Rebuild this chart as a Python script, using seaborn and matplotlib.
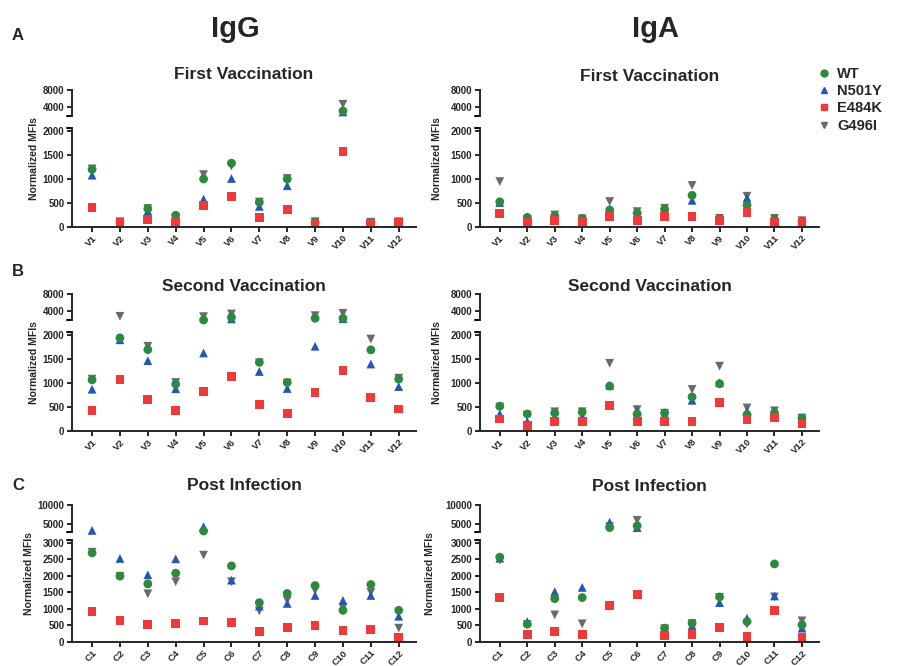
import pandas as pd
import matplotlib.pyplot as plt
from matplotlib.lines import Line2D
import seaborn as sns

sns.set_style("ticks")
plt.rcParams['font.family'] = ['Liberation Sans', 'DejaVu Sans']
plt.rcParams['font.weight'] = 'bold'

variants = ['WT', 'N501Y', 'E484K', 'G496I']
draw_order = ['G496I', 'N501Y', 'WT', 'E484K']
colors = {'WT': '#2b8a3e', 'N501Y': '#2457b5', 'E484K': '#f03a3a', 'G496I': '#6a6a6a'}
markers = {'WT': 'o', 'N501Y': '^', 'E484K': 's', 'G496I': 'v'}

vacc = ['V1', 'V2', 'V3', 'V4', 'V5', 'V6', 'V7', 'V8', 'V9', 'V10', 'V11', 'V12']
conv = ['C1', 'C2', 'C3', 'C4', 'C5', 'C6', 'C7', 'C8', 'C9', 'C10', 'C11', 'C12']

# First vaccination
first_igg_wt = [1200, 100, 380, 245, 1000, 1330, 515, 1000, 100, 3150, 90, 100]
first_igg_n501y = [1080, 100, 330, 150, 580, 1010, 430, 860, 100, 2930, 90, 100]
first_igg_e484k = [400, 90, 150, 105, 445, 635, 195, 370, 85, 1580, 80, 90]
first_igg_g496i = [1210, 110, 385, 170, 1090, 1270, 520, 1010, 110, 4700, 100, 110]

first_iga_wt = [525, 200, 230, 180, 355, 290, 370, 660, 170, 455, 150, 120]
first_iga_n501y = [510, 190, 220, 190, 375, 270, 350, 555, 170, 605, 150, 130]
first_iga_e484k = [285, 105, 140, 105, 215, 140, 225, 225, 140, 300, 100, 100]
first_iga_g496i = [945, 150, 250, 170, 530, 320, 390, 865, 180, 640, 180, 130]

# Second vaccination
second_igg_wt = [1065, 1940, 1695, 975, 2005, 2600, 1430, 1010, 2400, 2400, 1690, 1080]
second_igg_n501y = [870, 1900, 1465, 880, 1625, 2250, 1240, 885, 1765, 2300, 1395, 925]
second_igg_e484k = [425, 1065, 650, 425, 820, 1135, 560, 360, 810, 1260, 690, 460]
second_igg_g496i = [1080, 2850, 1765, 1010, 2770, 3380, 1420, 1000, 3000, 3540, 1915, 1100]

second_iga_wt = [515, 355, 375, 395, 935, 355, 375, 710, 985, 340, 375, 270]
second_iga_n501y = [355, 200, 305, 305, 950, 410, 340, 640, 1005, 410, 400, 235]
second_iga_e484k = [250, 120, 200, 195, 535, 200, 200, 200, 590, 235, 280, 145]
second_iga_g496i = [500, 330, 400, 400, 1410, 445, 370, 865, 1350, 480, 420, 270]

# Post infection
post_igg_wt = [2700, 1995, 1760, 2085, 3160, 2305, 1190, 1470, 1710, 960, 1740, 960]
post_igg_n501y = [3330, 2530, 2035, 2520, 4300, 1875, 1090, 1170, 1410, 1260, 1410, 780]
post_igg_e484k = [915, 655, 535, 565, 635, 585, 320, 450, 510, 360, 390, 150]
post_igg_g496i = [2720, 1990, 1460, 1825, 2630, 1825, 940, 1260, 1560, 1050, 1500, 420]

post_iga_wt = [2570, 540, 1315, 1345, 4060, 4530, 420, 570, 1365, 620, 2365, 520]
post_iga_n501y = [2540, 620, 1525, 1655, 5470, 4060, 370, 500, 1195, 720, 1395, 420]
post_iga_e484k = [1345, 220, 310, 220, 1095, 1445, 200, 220, 440, 160, 945, 150]
post_iga_g496i = [2480, 530, 820, 550, 4300, 5940, 400, 560, 1350, 540, 1365, 640]

W, H = 898, 666


def box(x0, x1, y0, y1):
    # pixel box (top-left origin) -> figure fraction
    return [x0 / W, 1 - y1 / H, (x1 - x0) / W, (y1 - y0) / H]


def panel_frame(labels, series):
    rows = []
    for v in draw_order:
        for lab, val in zip(labels, series[v]):
            rows.append((lab, v, val))
    df = pd.DataFrame(rows, columns=['sample', 'variant', 'mfi'])
    df['sample'] = pd.Categorical(df['sample'], categories=labels)
    return df


panels = [
    dict(title='First Vaccination', labels=vacc, col=0, row=0,
         series={'WT': first_igg_wt, 'N501Y': first_igg_n501y, 'E484K': first_igg_e484k, 'G496I': first_igg_g496i}),
    dict(title='First Vaccination', labels=vacc, col=1, row=0,
         series={'WT': first_iga_wt, 'N501Y': first_iga_n501y, 'E484K': first_iga_e484k, 'G496I': first_iga_g496i}),
    dict(title='Second Vaccination', labels=vacc, col=0, row=1,
         series={'WT': second_igg_wt, 'N501Y': second_igg_n501y, 'E484K': second_igg_e484k, 'G496I': second_igg_g496i}),
    dict(title='Second Vaccination', labels=vacc, col=1, row=1,
         series={'WT': second_iga_wt, 'N501Y': second_iga_n501y, 'E484K': second_iga_e484k, 'G496I': second_iga_g496i}),
    dict(title='Post Infection', labels=conv, col=0, row=2,
         series={'WT': post_igg_wt, 'N501Y': post_igg_n501y, 'E484K': post_igg_e484k, 'G496I': post_igg_g496i}),
    dict(title='Post Infection', labels=conv, col=1, row=2,
         series={'WT': post_iga_wt, 'N501Y': post_iga_n501y, 'E484K': post_iga_e484k, 'G496I': post_iga_g496i}),
]

# per row: upper axes px, lower axes px, lower top value, upper range, ticks, title pad
rows_cfg = [
    dict(up=(90, 116), low=(128, 227), low_lim=2062, split=2000, up_lim=(2000, 8000),
         up_ticks=[4000, 8000], low_ticks=range(0, 2001, 500), pad=[8, 6.5]),
    dict(up=(294, 320), low=(332, 431), low_lim=2062, split=2000, up_lim=(2000, 8000),
         up_ticks=[4000, 8000], low_ticks=range(0, 2001, 500), pad=[2, 1.5]),
    dict(up=(505, 532), low=(540, 642), low_lim=3090, split=3000, up_lim=(2900, 10000),
         up_ticks=[5000, 10000], low_ticks=range(0, 3001, 500), pad=[11, 10]),
]
cols_x = [(72, 416), (480, 819)]
ylab_x = [[34, 34, 29], [437, 437, 430]]

fig = plt.figure(figsize=(8.98, 6.66), dpi=100)

for p in panels:
    rc = rows_cfg[p['row']]
    x0, x1 = cols_x[p['col']]
    up = fig.add_axes(box(x0, x1, *rc['up']))
    low = fig.add_axes(box(x0, x1, *rc['low']))
    df = panel_frame(p['labels'], p['series'])
    for ax, part in ((up, df[df['mfi'] > rc['split']]), (low, df[df['mfi'] <= rc['split']])):
        if len(part):
            sns.scatterplot(data=part, x='sample', y='mfi', hue='variant', style='variant',
                            hue_order=variants, style_order=variants, palette=colors,
                            markers=markers, s=40, linewidth=0, ax=ax, legend=False,
                            clip_on=False)
        ax.set_xlim(-0.72, 11.62)
        ax.set_xlabel('')
        ax.set_ylabel('')
        sns.despine(ax=ax)
        for s in ('left', 'bottom'):
            ax.spines[s].set_linewidth(1.4)
        ax.tick_params(axis='both', direction='out', length=3.5, width=1.4, labelsize=7, pad=2)
    up.set_ylim(*rc['up_lim'])
    up.set_yticks(rc['up_ticks'])
    up.spines['bottom'].set_visible(False)
    up.tick_params(axis='x', bottom=False, labelbottom=False)
    low.set_ylim(0, rc['low_lim'])
    low.set_yticks(list(rc['low_ticks']))
    low.set_xticks(range(len(p['labels'])))
    low.set_xticklabels(p['labels'], rotation=45, ha='right', rotation_mode='anchor',
                        fontsize=6.8, fontweight='bold')
    low.tick_params(axis='x', pad=1)
    for t in up.get_yticklabels() + low.get_yticklabels():
        t.set_fontweight('bold')
    # break hooks
    hook = 5 / (x1 - x0)
    up.plot([-hook, 0], [0, 0], transform=up.transAxes, color='k', lw=1.4, clip_on=False)
    low.plot([-hook, 0], [1, 1], transform=low.transAxes, color='k', lw=1.4, clip_on=False)
    up.set_title(p['title'], fontsize=12.5, fontweight='bold', pad=rc['pad'][p['col']])
    yc = (rc['up'][0] + rc['low'][1]) / 2
    fig.text(ylab_x[p['col']][p['row']] / W, 1 - yc / H, 'Normalized MFIs', rotation=90,
             ha='center', va='center', fontsize=7.5, fontweight='bold')

fig.text(235 / W, 1 - 37 / H, 'IgG', ha='center', va='baseline', fontsize=21, fontweight='bold')
fig.text(655 / W, 1 - 37 / H, 'IgA', ha='center', va='baseline', fontsize=21, fontweight='bold')
for letter, yy in (('A', 36), ('B', 272), ('C', 486)):
    fig.text(18 / W, 1 - yy / H, letter, ha='center', va='center', fontsize=12, fontweight='bold')

handles = [Line2D([], [], linestyle='none', marker=markers[v], color=colors[v], markersize=5)
           for v in variants]
fig.legend(handles, variants, loc='upper left', bbox_to_anchor=(817 / W, 1 - 67 / H),
           frameon=False, prop={'size': 10.5, 'weight': 'bold'}, handlelength=0.9,
           handletextpad=0.5, labelspacing=0.22, borderaxespad=0, borderpad=0)

fig.savefig('out.png', dpi=100)
